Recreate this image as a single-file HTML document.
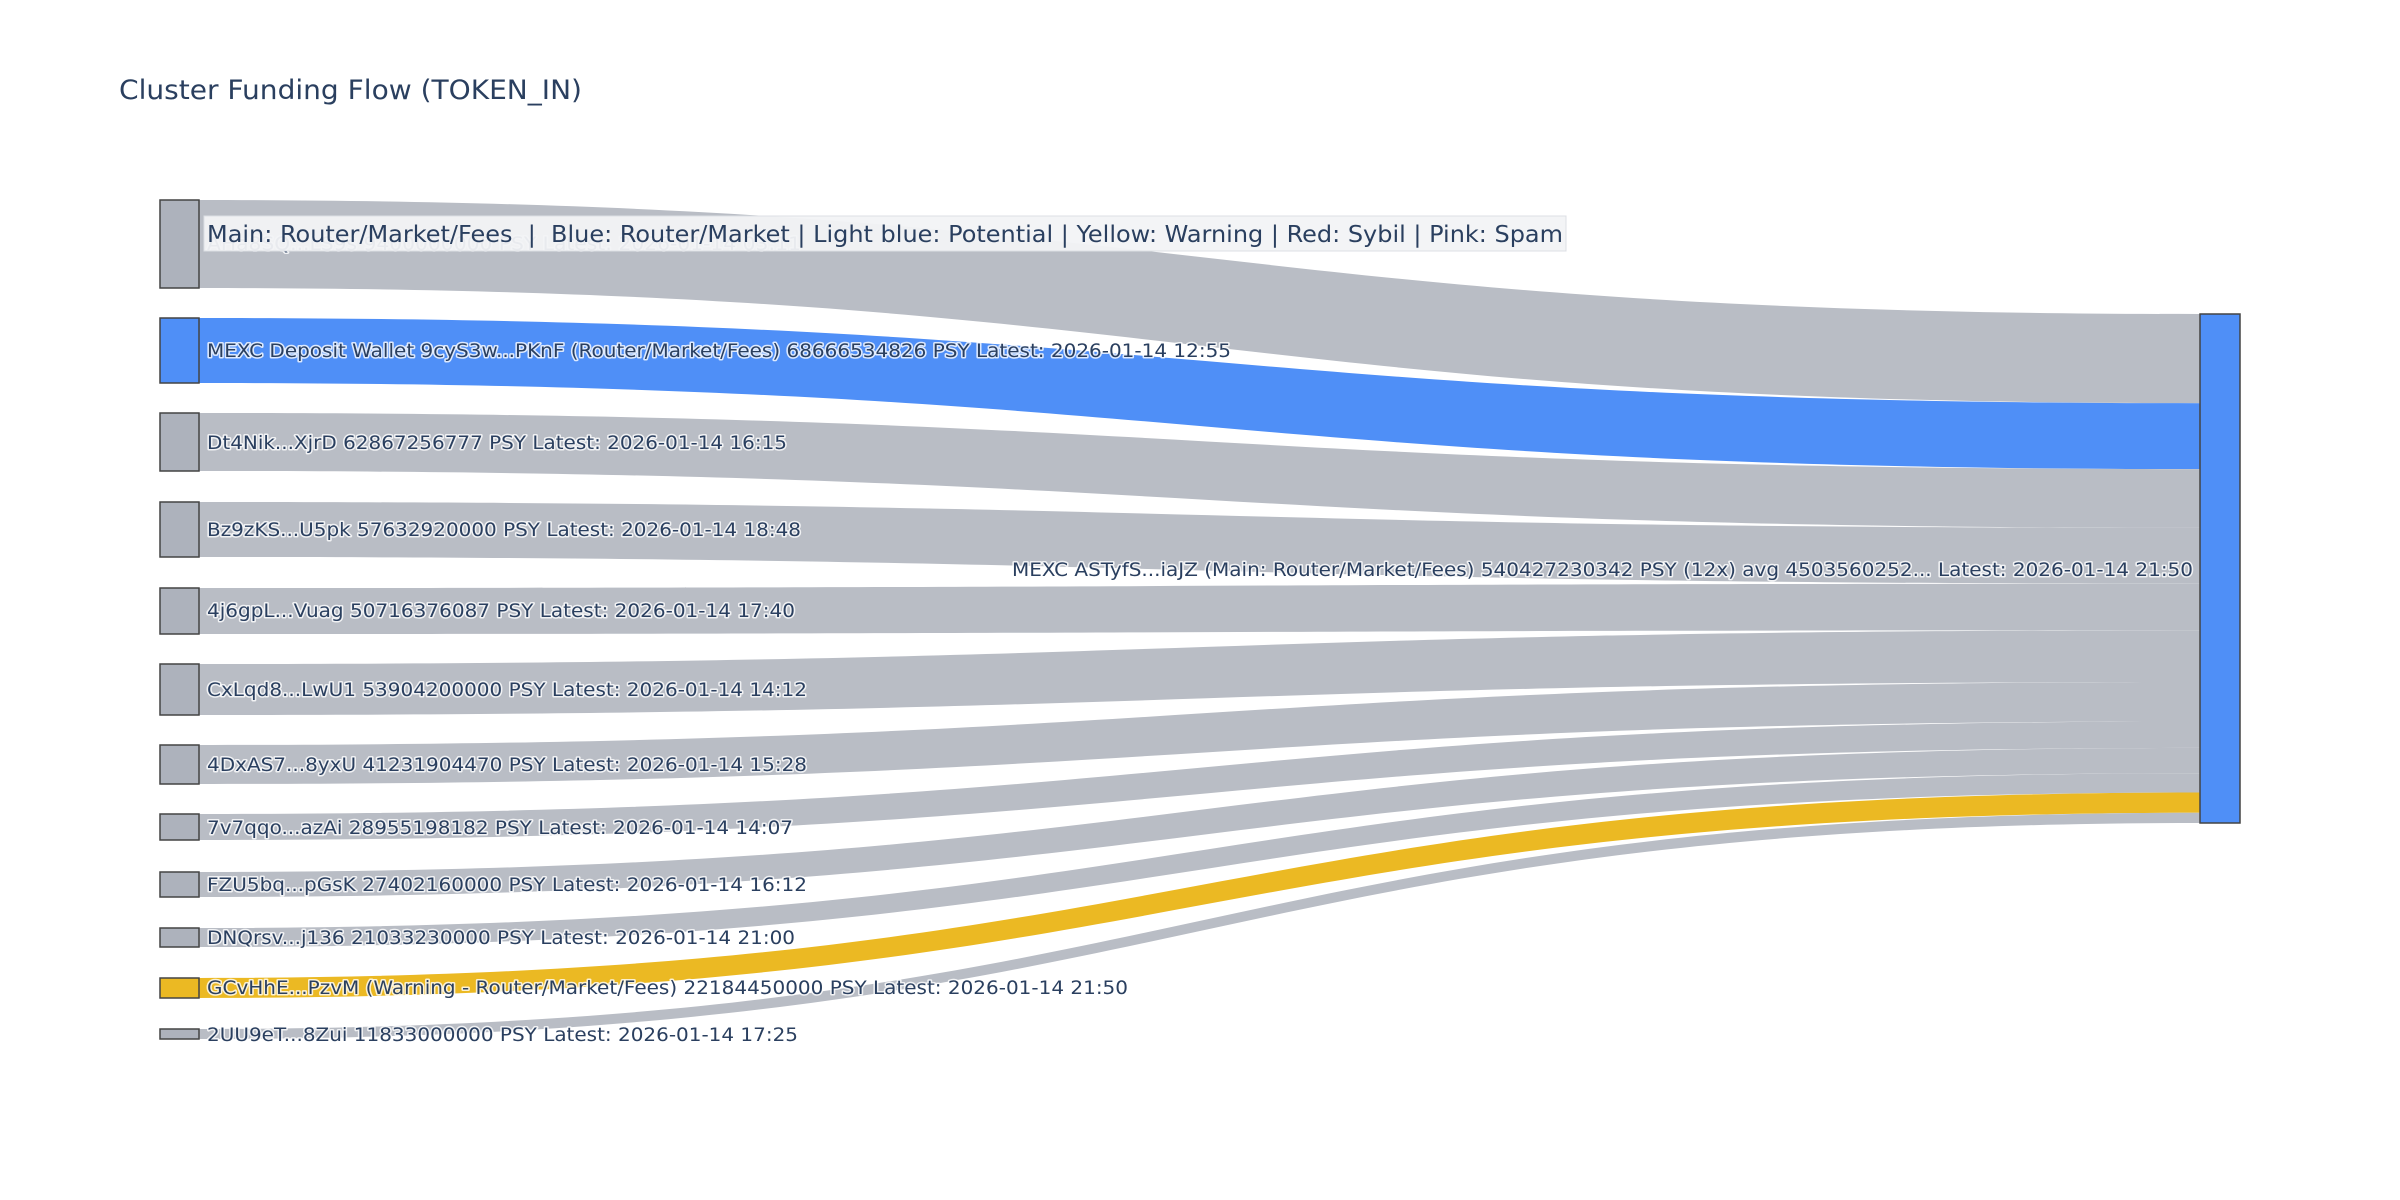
<!DOCTYPE html>
<html><head><meta charset="utf-8"><style>
html,body{margin:0;padding:0;background:#fff;}
svg{display:block;font-family:"DejaVu Sans","Liberation Sans",sans-serif;}
.lb{font-size:19px;fill:#2a3f5f;paint-order:stroke;stroke:#fff;stroke-opacity:0.8;stroke-width:3px;stroke-linejoin:round;}
</style></head><body>
<svg width="2400" height="1200" viewBox="0 0 2400 1200" xmlns="http://www.w3.org/2000/svg">
<rect width="2400" height="1200" fill="#fff"/>
<text x="119" y="99" font-size="27" fill="#2a3f5f" textLength="463" lengthAdjust="spacingAndGlyphs">Cluster Funding Flow (TOKEN_IN)</text>
<g>
<path d="M199,200 C1200,200 1200,314 2200,314 L2200,403.2 C1200,403.2 1200,288 199,288Z" fill="#b9bdc5"/>
<path d="M199,318 C1200,318 1200,403.2 2200,403.2 L2200,469.1 C1200,469.1 1200,383 199,383Z" fill="#4f8ff7"/>
<path d="M199,413 C1200,413 1200,469.1 2200,469.1 L2200,527.9 C1200,527.9 1200,471 199,471Z" fill="#b9bdc5"/>
<path d="M199,502 C1200,502 1200,527.9 2200,527.9 L2200,583.7 C1200,583.7 1200,557 199,557Z" fill="#b9bdc5"/>
<path d="M199,588 C1200,588 1200,583.7 2200,583.7 L2200,630.3 C1200,630.3 1200,634 199,634Z" fill="#b9bdc5"/>
<path d="M199,664 C1200,664 1200,630.3 2200,630.3 L2200,682 C1200,682 1200,715 199,715Z" fill="#b9bdc5"/>
<path d="M199,745 C1200,745 1200,682 2200,682 L2200,721.5 C1200,721.5 1200,784 199,784Z" fill="#b9bdc5"/>
<path d="M199,814 C1200,814 1200,721.5 2200,721.5 L2200,747.9 C1200,747.9 1200,840 199,840Z" fill="#b9bdc5"/>
<path d="M199,872 C1200,872 1200,747.9 2200,747.9 L2200,773.2 C1200,773.2 1200,897 199,897Z" fill="#b9bdc5"/>
<path d="M199,928 C1200,928 1200,773.2 2200,773.2 L2200,792.5 C1200,792.5 1200,947 199,947Z" fill="#b9bdc5"/>
<path d="M199,978 C1200,978 1200,792.5 2200,792.5 L2200,812.8 C1200,812.8 1200,998 199,998Z" fill="#ebb923"/>
<path d="M199,1029 C1200,1029 1200,812.8 2200,812.8 L2200,823 C1200,823 1200,1039 199,1039Z" fill="#b9bdc5"/>
</g>
<g stroke="#444" stroke-width="1.5">
<rect x="160" y="200" width="39" height="88" fill="#adb2bc"/>
<rect x="160" y="318" width="39" height="65" fill="#4f8ff7"/>
<rect x="160" y="413" width="39" height="58" fill="#adb2bc"/>
<rect x="160" y="502" width="39" height="55" fill="#adb2bc"/>
<rect x="160" y="588" width="39" height="46" fill="#adb2bc"/>
<rect x="160" y="664" width="39" height="51" fill="#adb2bc"/>
<rect x="160" y="745" width="39" height="39" fill="#adb2bc"/>
<rect x="160" y="814" width="39" height="26" fill="#adb2bc"/>
<rect x="160" y="872" width="39" height="25" fill="#adb2bc"/>
<rect x="160" y="928" width="39" height="19" fill="#adb2bc"/>
<rect x="160" y="978" width="39" height="20" fill="#ebb923"/>
<rect x="160" y="1029" width="39" height="10" fill="#adb2bc"/>
<rect x="2200" y="314" width="40" height="509" fill="#4f8ff7"/>
</g>
<g class="lb">
<text x="207" y="250" textLength="594" lengthAdjust="spacingAndGlyphs">AHa8SQ...LS9s 9400000000 PSY Latest: 2026-01-14 03:11</text>
<text x="207" y="357" textLength="1024" lengthAdjust="spacingAndGlyphs">MEXC Deposit Wallet 9cyS3w...PKnF (Router/Market/Fees) 68666534826 PSY Latest: 2026-01-14 12:55</text>
<text x="207" y="449" textLength="580" lengthAdjust="spacingAndGlyphs">Dt4Nik...XjrD 62867256777 PSY Latest: 2026-01-14 16:15</text>
<text x="207" y="536" textLength="594" lengthAdjust="spacingAndGlyphs">Bz9zKS...U5pk 57632920000 PSY Latest: 2026-01-14 18:48</text>
<text x="207" y="617" textLength="588" lengthAdjust="spacingAndGlyphs">4j6gpL...Vuag 50716376087 PSY Latest: 2026-01-14 17:40</text>
<text x="207" y="696" textLength="600" lengthAdjust="spacingAndGlyphs">CxLqd8...LwU1 53904200000 PSY Latest: 2026-01-14 14:12</text>
<text x="207" y="771" textLength="600" lengthAdjust="spacingAndGlyphs">4DxAS7...8yxU 41231904470 PSY Latest: 2026-01-14 15:28</text>
<text x="207" y="834" textLength="586" lengthAdjust="spacingAndGlyphs">7v7qqo...azAi 28955198182 PSY Latest: 2026-01-14 14:07</text>
<text x="207" y="891" textLength="600" lengthAdjust="spacingAndGlyphs">FZU5bq...pGsK 27402160000 PSY Latest: 2026-01-14 16:12</text>
<text x="207" y="944" textLength="588" lengthAdjust="spacingAndGlyphs">DNQrsv...j136 21033230000 PSY Latest: 2026-01-14 21:00</text>
<text x="207" y="994" textLength="921" lengthAdjust="spacingAndGlyphs">GCvHhE...PzvM (Warning - Router/Market/Fees) 22184450000 PSY Latest: 2026-01-14 21:50</text>
<text x="207" y="1041" textLength="591" lengthAdjust="spacingAndGlyphs">2UU9eT...8Zui 11833000000 PSY Latest: 2026-01-14 17:25</text>
<text x="1012" y="576" textLength="1181" lengthAdjust="spacingAndGlyphs">MEXC ASTyfS...iaJZ (Main: Router/Market/Fees) 540427230342 PSY (12x) avg 4503560252... Latest: 2026-01-14 21:50</text>
</g>
<rect x="204" y="216" width="1362" height="35" fill="#f2f3f5" fill-opacity="0.95" stroke="#dcdfe4" stroke-width="1"/>
<text x="207" y="242" font-size="23" fill="#2a3f5f" textLength="1356" lengthAdjust="spacingAndGlyphs" xml:space="preserve">Main: Router/Market/Fees  |  Blue: Router/Market | Light blue: Potential | Yellow: Warning | Red: Sybil | Pink: Spam</text>
</svg>
</body></html>
